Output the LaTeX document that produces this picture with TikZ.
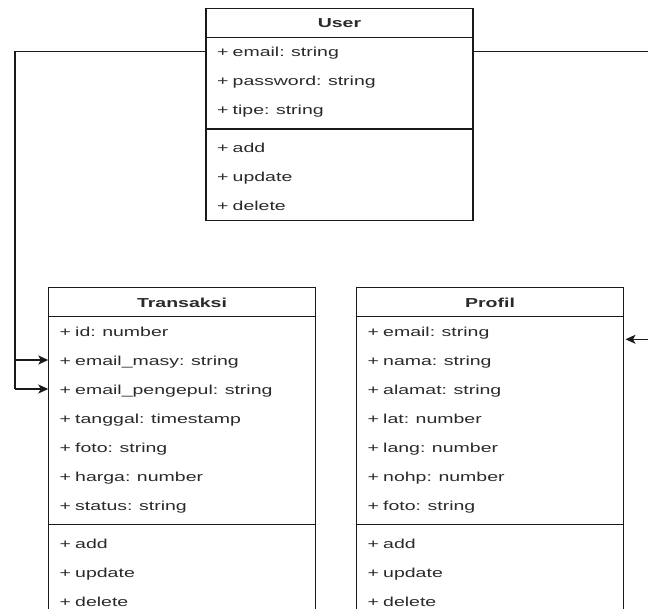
\documentclass[tikz,border=0pt]{standalone}
\usepackage{fontspec}
\setmainfont[FakeStretch=1.5]{Liberation Sans}
\usetikzlibrary{arrows.meta}
\definecolor{txt}{HTML}{2A2A2A}
\definecolor{ln}{HTML}{1A1A1A}
\begin{document}
\begin{tikzpicture}[x=1pt,y=-1pt,
  classbox/.style={draw=ln,line width=1.3pt,rectangle,minimum width=267pt,inner sep=0pt},
  hdr/.style={draw=ln,line width=1.3pt,rectangle,minimum width=267pt,minimum height=29pt,inner sep=0pt,
    font=\fontsize{13}{15}\selectfont\bfseries,text=txt,text height=13pt,text depth=2.6pt},
  row/.style={rectangle,minimum width=267pt,minimum height=29pt,text width=245pt,inner xsep=11pt,inner ysep=0pt,
    align=left,font=\fontsize{13}{15}\selectfont,text=txt,text height=13pt,text depth=2.6pt},
  sep/.style={draw=ln,line width=1.3pt},
  conn/.style={draw=ln,line width=1.3pt},
  arr/.style={conn,-{Stealth[length=10pt,width=9pt,inset=2.5pt]}}
]
\useasboundingbox (0,0) rectangle (648,609);
\fill[white] (0,0) rectangle (648,609);
\clip (0,0) rectangle (648,609);

% ---------- User ----------
\node[classbox,minimum height=212pt] (user) at (339.5,114.3) {};
\node[hdr] (userh) at (339.5,22.8) {User};
\node[row] (u1) at (339.5,51.8) {+ email: string};
\node[row] (u2) at (339.5,80.8) {+ password: string};
\node[row] (u3) at (339.5,109.8) {+ tipe: string};
\draw[sep] ([yshift=-4.5pt]u3.south west) -- ([yshift=-4.5pt]u3.south east);
\node[row] (u4) at (339.5,147.8) {+ add};
\node[row] (u5) at (339.5,176.8) {+ update};
\node[row] (u6) at (339.5,205.8) {+ delete};

% ---------- Transaksi ----------
\node[classbox,minimum height=328.5pt] (trans) at (182,451.75) {};
\node[hdr] (transh) at (182,302) {Transaksi};
\node[row] (t1) at (182,331) {+ id: number};
\node[row] (t2) at (182,360) {+ email\_masy: string};
\node[row] (t3) at (182,389) {+ email\_pengepul: string};
\node[row] (t4) at (182,418) {+ tanggal: timestamp};
\node[row] (t5) at (182,447) {+ foto: string};
\node[row] (t6) at (182,476) {+ harga: number};
\node[row] (t7) at (182,505) {+ status: string};
\draw[sep] ([yshift=-4.5pt]t7.south west) -- ([yshift=-4.5pt]t7.south east);
\node[row] (t8) at (182,543) {+ add};
\node[row] (t9) at (182,572) {+ update};
\node[row] (t10) at (182,601) {+ delete};

% ---------- Profil ----------
\node[classbox,minimum height=328.5pt] (prof) at (490,451.75) {};
\node[hdr] (profh) at (490,302) {Profil};
\node[row] (p1) at (490,331) {+ email: string};
\node[row] (p2) at (490,360) {+ nama: string};
\node[row] (p3) at (490,389) {+ alamat: string};
\node[row] (p4) at (490,418) {+ lat: number};
\node[row] (p5) at (490,447) {+ lang: number};
\node[row] (p6) at (490,476) {+ nohp: number};
\node[row] (p7) at (490,505) {+ foto: string};
\draw[sep] ([yshift=-4.5pt]p7.south west) -- ([yshift=-4.5pt]p7.south east);
\node[row] (p8) at (490,543) {+ add};
\node[row] (p9) at (490,572) {+ update};
\node[row] (p10) at (490,601) {+ delete};

% ---------- connectors ----------
\coordinate (lcorner) at (15,51.8);
\coordinate (lbottom) at (15,389);
\coordinate (lbranch) at (15,360);
\coordinate (rend) at (660,51.8);
\coordinate (pin) at (660,339.3);
\coordinate (ptip) at (625.5,339.3);

\draw[conn] (u1.west) -- (lcorner) -- (lbottom);
\draw[arr] (lbottom) -- (t3.west);
\draw[arr] (lbranch) -- (t2.west);
\draw[conn] (u1.east) -- (rend);
\draw[arr] (pin) -- (ptip);
\end{tikzpicture}
\end{document}
